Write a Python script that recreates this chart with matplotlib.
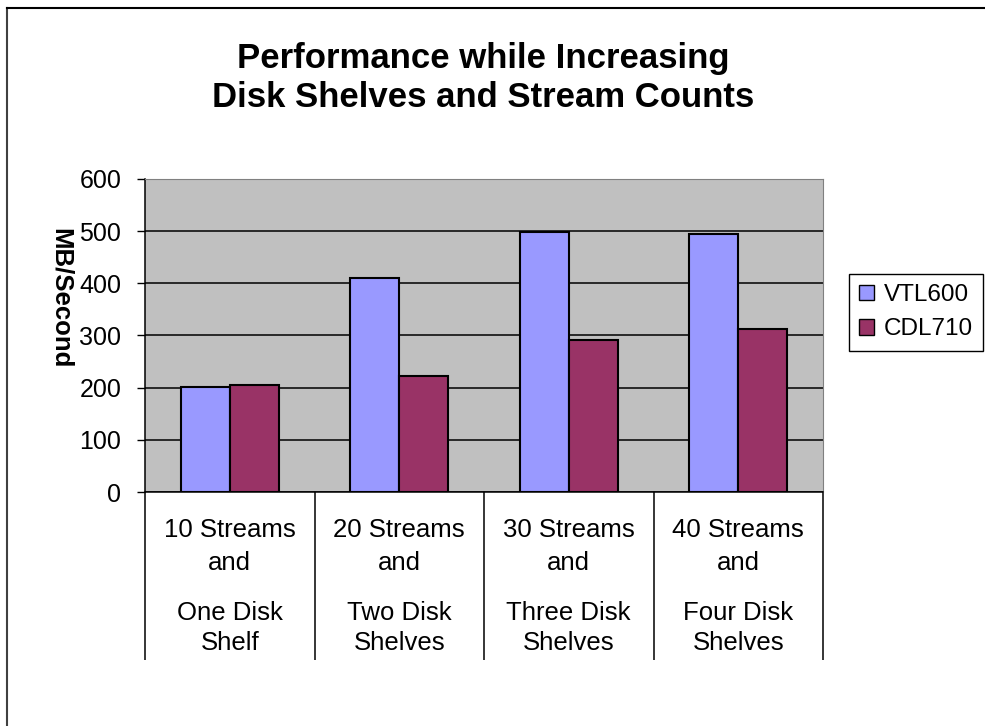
import numpy as np
import matplotlib
matplotlib.use("Agg")
from matplotlib import pyplot as plt
from matplotlib import transforms
from matplotlib.patches import Patch
from matplotlib.lines import Line2D

plt.rcParams['font.family'] = ['Liberation Sans', 'DejaVu Sans']

# data
top_lines = ["10 Streams\nand", "20 Streams\nand", "30 Streams\nand", "40 Streams\nand"]
bottom_lines = ["One Disk\nShelf", "Two Disk\nShelves", "Three Disk\nShelves", "Four Disk\nShelves"]
series_names = ["VTL600", "CDL710"]
vtl600 = [202, 410, 498, 494]
cdl710 = [206, 222, 291, 313]
y_ticks = [0, 100, 200, 300, 400, 500, 600]

W, H = 985, 726
fig = plt.figure(figsize=(W / 100, H / 100), dpi=100)
fig.patch.set_facecolor("white")

# plot area in pixels: left 145, right 823, top 179, bottom 492
ax = fig.add_axes([145 / W, 1 - 492 / H, (823 - 145) / W, (492 - 179) / H])
ax.set_facecolor("#C0C0C0")

x = np.arange(len(vtl600))
bw = 0.29
ax.bar(x - bw / 2, vtl600, bw, color="#9999FF", edgecolor="black", linewidth=1.5, zorder=3)
ax.bar(x + bw / 2, cdl710, bw, color="#993366", edgecolor="black", linewidth=1.5, zorder=3)

ax.set_xlim(-0.5, len(x) - 0.5)
ax.set_ylim(0, 600)
ax.set_yticks(y_ticks)
ax.set_yticklabels([str(v) for v in y_ticks], fontsize=18)
ax.tick_params(axis="y", direction="out", length=6, width=1, pad=11, color="black")
ax.yaxis.grid(True, color="black", linewidth=1.1, zorder=1)
ax.set_axisbelow(True)

# category separators as long x ticks
ax.set_xticks(np.arange(-0.5, len(x), 1.0))
ax.set_xticklabels([])
ax.tick_params(axis="x", direction="out", length=121, width=1.1, color="black")

for s in ["top", "right"]:
    ax.spines[s].set_color("#808080")
for s in ["left", "bottom"]:
    ax.spines[s].set_color("black")
    ax.spines[s].set_linewidth(1.1)

# category labels
tr = transforms.blended_transform_factory(ax.transData, fig.transFigure)
for i in range(len(x)):
    for j, line in enumerate(top_lines[i].split("\n")):
        ax.text(i, 1 - [530, 563][j] / H, line, transform=tr, ha="center", va="center",
                fontsize=18.5, clip_on=False)
    for j, line in enumerate(bottom_lines[i].split("\n")):
        ax.text(i, 1 - [613, 643][j] / H, line, transform=tr, ha="center", va="center",
                fontsize=18.5, clip_on=False)

# title
fig.text(483 / W, 1 - 68 / H, "Performance while Increasing", ha="center", va="baseline",
         fontsize=25, fontweight="bold")
fig.text(483 / W, 1 - 107 / H, "Disk Shelves and Stream Counts", ha="center", va="baseline",
         fontsize=25, fontweight="bold")

# y label
fig.text(61 / W, 1 - 298 / H, "MB/Second", rotation=-90, ha="center", va="center",
         fontsize=18.5, fontweight="bold")

# legend
handles = [Patch(facecolor="#9999FF", edgecolor="black", linewidth=1),
           Patch(facecolor="#993366", edgecolor="black", linewidth=1)]
leg = fig.legend(handles, series_names, loc="upper left",
                 bbox_to_anchor=(849 / W, 1 - 274 / H), borderaxespad=0,
                 fontsize=17.5, frameon=True, fancybox=False, framealpha=1,
                 handlelength=0.6, handleheight=0.6, handletextpad=0.4,
                 borderpad=0.42, labelspacing=0.5)
leg.get_frame().set_edgecolor("black")
leg.get_frame().set_linewidth(1)

# outer chart frame
fig.add_artist(Line2D([7 / W, 7 / W], [0, 1 - 8 / H], transform=fig.transFigure,
                      color="#404040", linewidth=1.5))
fig.add_artist(Line2D([7 / W, 1], [1 - 8 / H, 1 - 8 / H], transform=fig.transFigure,
                      color="black", linewidth=1.5))

fig.savefig("out.png", dpi=100)
